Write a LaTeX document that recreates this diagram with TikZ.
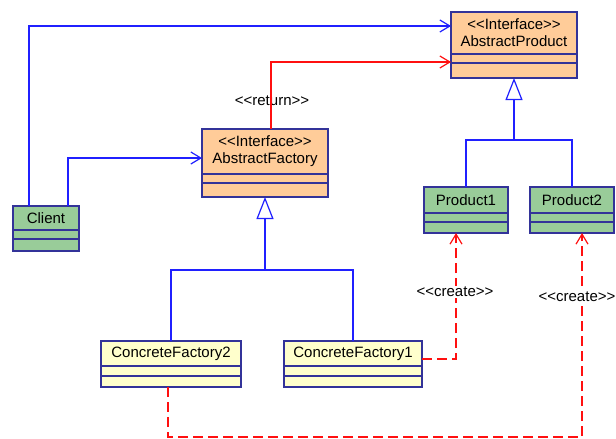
\documentclass[tikz,border=0pt]{standalone}
\usepackage{fontspec}
\setmainfont[Ligatures=TeXOff]{Liberation Sans}
\usetikzlibrary{positioning,arrows.meta}
\definecolor{umlline}{HTML}{333399}
\definecolor{ifill}{HTML}{FFCC99}
\definecolor{cfill}{HTML}{99CC99}
\definecolor{ffill}{HTML}{FFFFCC}
\definecolor{linkblue}{HTML}{2020FF}
\definecolor{linkred}{HTML}{FF1010}
\begin{document}
\begin{tikzpicture}[x=1pt,y=-1pt,
    cls/.style={draw=umlline, line width=1.2pt, inner sep=0pt, outer sep=0pt, align=center, font=\fontsize{15}{17}\selectfont},
    part/.style={draw=umlline, line width=1.2pt, inner sep=0pt, outer sep=0pt},
    lbl/.style={inner sep=1pt, font=\fontsize{15}{17}\selectfont},
    assoc/.style={linkblue, line width=1.2pt, -{Straight Barb[length=10pt, width=12pt]}},
    ret/.style={linkred, line width=1.2pt, -{Straight Barb[length=10pt, width=12pt]}},
    gen/.style={linkblue, line width=1.2pt},
    genhead/.style={-{Triangle[open, length=22pt, width=17pt]}},
    create/.style={linkred, line width=1.2pt, dash pattern=on 10pt off 5pt, -{Straight Barb[length=10pt, width=12pt]}}]
    \useasboundingbox (0,0) rectangle (616,439);

    \node[cls, fill=ifill, minimum width=126pt, minimum height=42pt] (ap) at (514,33) {<<Interface>>\\AbstractProduct};
    \node[part, fill=ifill, minimum width=126pt, minimum height=9pt, below=0pt of ap] (apa) {};
    \node[part, fill=ifill, minimum width=126pt, minimum height=15pt, below=0pt of apa] (apo) {};

    \node[cls, fill=ifill, minimum width=126pt, minimum height=45pt] (af) at (265,151.5) {<<Interface>>\\AbstractFactory};
    \node[part, fill=ifill, minimum width=126pt, minimum height=9pt, below=0pt of af] (afa) {};
    \node[part, fill=ifill, minimum width=126pt, minimum height=14pt, below=0pt of afa] (afo) {};

    \node[cls, fill=cfill, minimum width=66pt, minimum height=24pt] (cl) at (46,218) {Client};
    \node[part, fill=cfill, minimum width=66pt, minimum height=9pt, below=0pt of cl] (cla) {};
    \node[part, fill=cfill, minimum width=66pt, minimum height=12pt, below=0pt of cla] (clo) {};

    \node[cls, fill=cfill, minimum width=84pt, minimum height=26pt] (p1) at (466,200) {Product1};
    \node[part, fill=cfill, minimum width=84pt, minimum height=9pt, below=0pt of p1] (p1a) {};
    \node[part, fill=cfill, minimum width=84pt, minimum height=11pt, below=0pt of p1a] (p1o) {};

    \node[cls, fill=cfill, minimum width=84pt, minimum height=26pt] (p2) at (572,200) {Product2};
    \node[part, fill=cfill, minimum width=84pt, minimum height=9pt, below=0pt of p2] (p2a) {};
    \node[part, fill=cfill, minimum width=84pt, minimum height=11pt, below=0pt of p2a] (p2o) {};

    \node[cls, fill=ffill, minimum width=140pt, minimum height=25pt] (cf2) at (171,353.5) {ConcreteFactory2};
    \node[part, fill=ffill, minimum width=140pt, minimum height=10pt, below=0pt of cf2] (cf2a) {};
    \node[part, fill=ffill, minimum width=140pt, minimum height=11pt, below=0pt of cf2a] (cf2o) {};

    \node[cls, fill=ffill, minimum width=138pt, minimum height=25pt] (cf1) at (353,353.5) {ConcreteFactory1};
    \node[part, fill=ffill, minimum width=138pt, minimum height=10pt, below=0pt of cf1] (cf1a) {};
    \node[part, fill=ffill, minimum width=138pt, minimum height=11pt, below=0pt of cf1a] (cf1o) {};

    \draw[assoc] ([xshift=-17pt]cl.north) |- ([yshift=7pt]ap.west);
    \draw[assoc] ([xshift=22pt]cl.north) |- ([yshift=-6.5pt]af.west);

    \node[lbl] (retlbl) at (272,101) {<<return>>};
    \draw[ret] ([xshift=6pt]af.north) |- ([yshift=-3.5pt]apa.west);

    \coordinate (afjoin) at (265,270);
    \draw[gen] (cf2.north) |- (afjoin) -| (cf1.north);
    \draw[gen, genhead] (afjoin) -- (afo.south);

    \coordinate (apjoin) at (514,140);
    \draw[gen] (p1.north) |- (apjoin) -| (p2.north);
    \draw[gen, genhead] (apjoin) -- (apo.south);

    \coordinate (c1turn) at (456,359);
    \draw[create] (cf1.east |- c1turn) -- (c1turn) -- (c1turn |- p1o.south);
    \coordinate (c2turn) at (582,437);
    \draw[create] ([xshift=-3pt]cf2o.south) |- (c2turn) -- (c2turn |- p2o.south);

    \node[lbl, fill=white] (cr1lbl) at (455,292) {<<create>>};
    \node[lbl, fill=white] (cr2lbl) at (577,297) {<<create>>};
\end{tikzpicture}
\end{document}
